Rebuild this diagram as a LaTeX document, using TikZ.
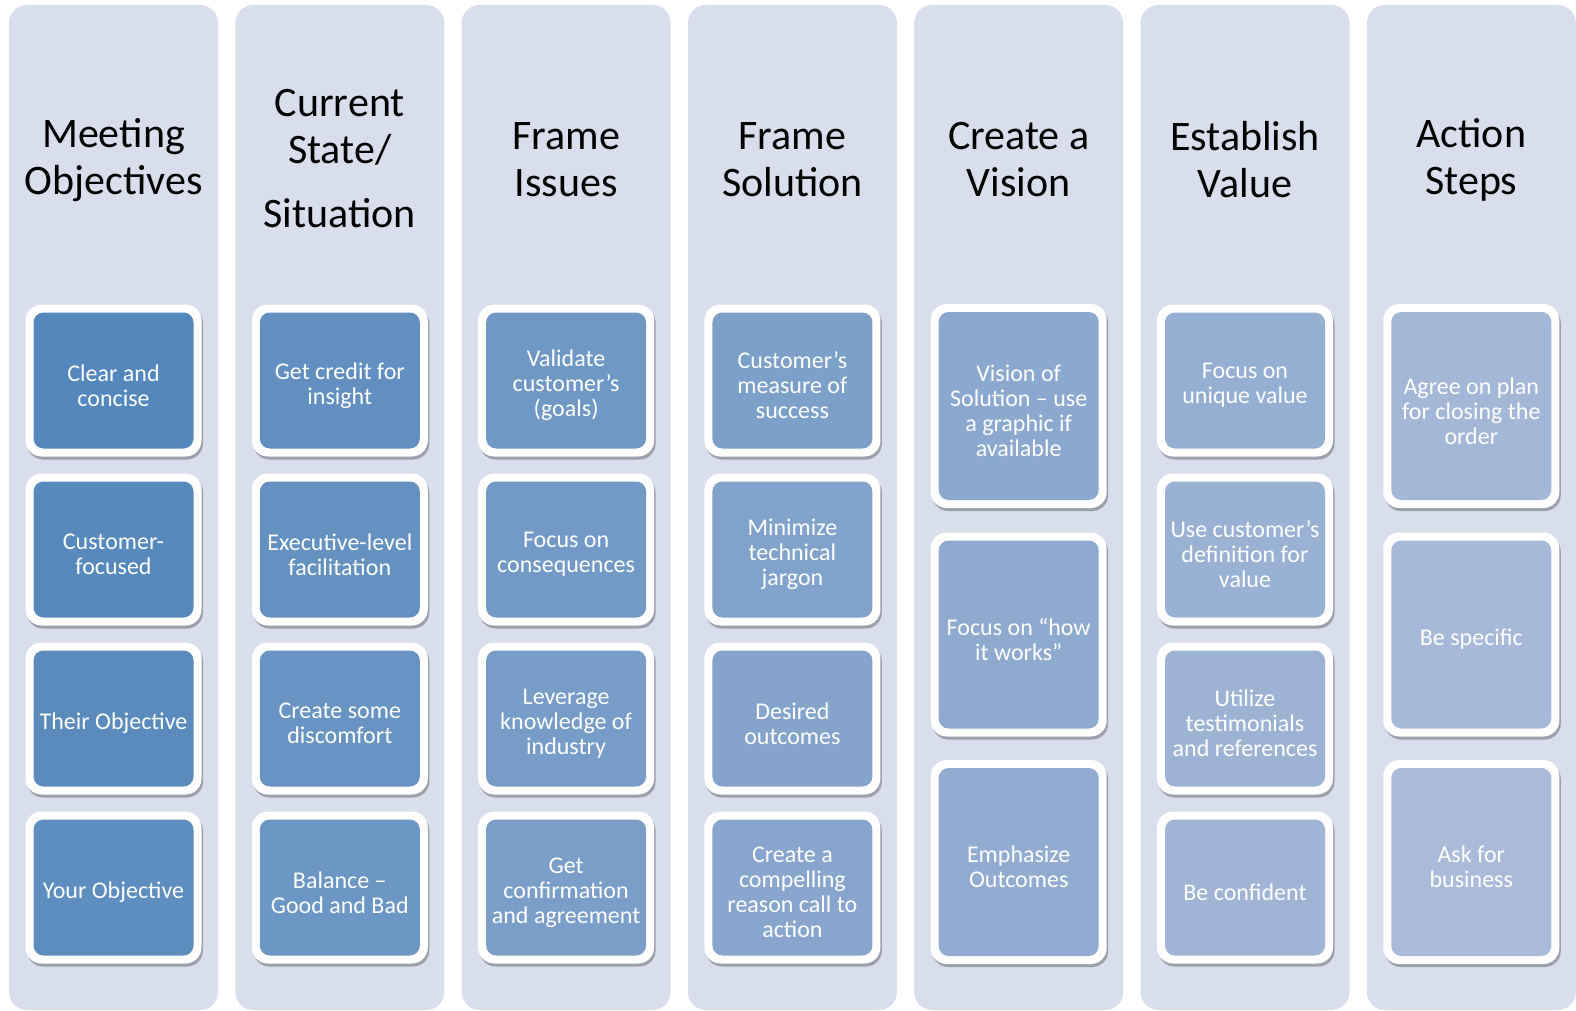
\documentclass[tikz,border=0pt]{standalone}
\usepackage{fontspec}
\setmainfont{Carlito}
\usetikzlibrary{shadows}
\definecolor{colbg}{RGB}{217,222,236}
\definecolor{cStart}{RGB}{84,135,187}
\definecolor{cEnd}{RGB}{170,187,217}
\tikzset{
  colbox/.style={fill=colbg, draw=none, rounded corners=18pt},
  outerbox/.style={fill=white, draw=none, rounded corners=16pt, minimum width=176pt, inner sep=0pt,
    drop shadow={shadow xshift=1.5pt, shadow yshift=-3pt, opacity=0.28, fill=black}},
  innerbox/.style={draw=none, rounded corners=10pt, minimum width=160pt, inner sep=0pt},
  cardtext/.style={text=white, align=center, inner sep=0pt, font=\fontsize{24}{25}\selectfont},
  coltitle/.style={align=center, text=black, inner sep=0pt, font=\fontsize{42}{47}\selectfont}
}
\newcommand\stepcard[6]{%
  \node[outerbox, minimum height=#4pt] (o#1) at (#2,#3) {};
  \node[innerbox, minimum height=#4pt-16pt, fill=cEnd!#5!cStart] (f#1) at (o#1.center) {};
  \node[cardtext] (#1) at ([yshift=-5pt]f#1.center) {#6};}
\begin{document}
\begin{tikzpicture}[x=1pt,y=-1pt]
\useasboundingbox (0,0) rectangle (1576,1011);
% columns
\foreach \i in {0,...,6}{
  \fill[colbox] ({9+226.3*\i},5) rectangle ({9+226.3*\i+209},1010);
}
% titles
\node[coltitle] (t1) at (113.5,160) {Meeting\\Objectives};
\node[coltitle] (t2) at (339.8,159) {Current\\State/\\[17pt]Situation};
\node[coltitle] (t3) at (566.1,160) {Frame\\Issues};
\node[coltitle] (t4) at (792.4,160) {Frame\\Solution};
\node[coltitle] (t5) at (1018.7,160) {Create a\\Vision};
\node[coltitle] (t6) at (1245.0,160) {Establish\\Value};
\node[coltitle] (t7) at (1471.3,160) {Action\\Steps};
% column 1
\stepcard{b11}{113.5}{380.5}{152}{0}{Clear and\\concise}
\stepcard{b12}{113.5}{549.5}{152}{4}{Customer-\\focused}
\stepcard{b13}{113.5}{718.5}{152}{8}{Their Objective}
\stepcard{b14}{113.5}{887.5}{152}{12}{Your Objective}
% column 2
\stepcard{b21}{339.8}{380.5}{152}{16}{Get credit for\\insight}
\stepcard{b22}{339.8}{549.5}{152}{20}{Executive-level\\facilitation}
\stepcard{b23}{339.8}{718.5}{152}{24}{Create some\\discomfort}
\stepcard{b24}{339.8}{887.5}{152}{28}{Balance –\\Good and Bad}
% column 3
\stepcard{b31}{566.1}{380.5}{152}{32}{Validate\\customer’s\\(goals)}
\stepcard{b32}{566.1}{549.5}{152}{36}{Focus on\\consequences}
\stepcard{b33}{566.1}{718.5}{152}{40}{Leverage\\knowledge of\\industry}
\stepcard{b34}{566.1}{887.5}{152}{44}{Get\\confirmation\\and agreement}
% column 4
\stepcard{b41}{792.4}{380.5}{152}{48}{Customer’s\\measure of\\success}
\stepcard{b42}{792.4}{549.5}{152}{52}{Minimize\\technical\\jargon}
\stepcard{b43}{792.4}{718.5}{152}{56}{Desired\\outcomes}
\stepcard{b44}{792.4}{887.5}{152}{60}{Create a\\compelling\\reason call to\\action}
% column 5
\stepcard{b51}{1018.7}{406}{204}{64}{Vision of\\Solution – use\\a graphic if\\available}
\stepcard{b52}{1018.7}{634.5}{204}{68}{Focus on “how\\it works”}
\stepcard{b53}{1018.7}{862}{204}{72}{Emphasize\\Outcomes}
% column 6
\stepcard{b61}{1245.0}{380.5}{152}{76}{Focus on\\unique value}
\stepcard{b62}{1245.0}{549.5}{152}{80}{Use customer’s\\definition for\\value}
\stepcard{b63}{1245.0}{718.5}{152}{84}{Utilize\\testimonials\\and references}
\stepcard{b64}{1245.0}{887.5}{152}{88}{Be confident}
% column 7
\stepcard{b71}{1471.3}{406}{204}{92}{Agree on plan\\for closing the\\order}
\stepcard{b72}{1471.3}{634.5}{204}{96}{Be specific}
\stepcard{b73}{1471.3}{862}{204}{100}{Ask for\\business}
\end{tikzpicture}
\end{document}
